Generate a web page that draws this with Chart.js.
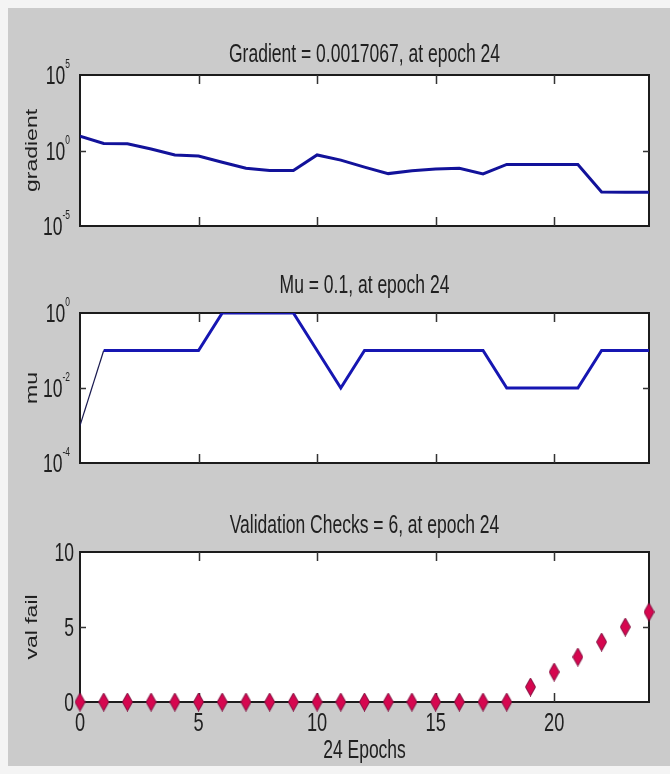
<!DOCTYPE html>
<html>
<head>
<meta charset="utf-8">
<script src="https://cdn.jsdelivr.net/npm/chart.js@4.4.1/dist/chart.umd.min.js"></script>
<style>
  html, body { margin: 0; padding: 0; background: #f4f4f4; }
  body { width: 670px; height: 774px; position: relative; overflow: hidden; }
  #fig { position: absolute; left: 8px; top: 8px; width: 662px; height: 758px; background: #cbcbcb; }
  canvas { position: absolute; left: 0; }
</style>
</head>
<body>
<div id="fig"></div>
<canvas id="gradChart" width="670" height="238" style="top:0px"></canvas>
<canvas id="muChart" width="670" height="238" style="top:238px"></canvas>
<canvas id="valChart" width="670" height="297" style="top:477px"></canvas>

<script>
// training record, one value per epoch
const epochs = [0, 1, 2, 3, 4, 5, 6, 7, 8, 9, 10, 11, 12, 13, 14, 15, 16, 17, 18, 19, 20, 21, 22, 23, 24];
const gradientValues = [8.9, 2.9, 2.75, 1.26, 0.5, 0.43, 0.166, 0.066, 0.048, 0.048, 0.51, 0.23,
                        0.079, 0.0295, 0.046, 0.059, 0.066, 0.028, 0.12, 0.12, 0.12, 0.12,
                        0.0018, 0.0017, 0.0017067];
const muValues = [0.001, 0.1, 0.1, 0.1, 0.1, 0.1, 1, 1, 1, 1, 0.1, 0.01, 0.1, 0.1, 0.1, 0.1,
                  0.1, 0.1, 0.01, 0.01, 0.01, 0.01, 0.1, 0.1, 0.1];
const valFailValues = [0, 0, 0, 0, 0, 0, 0, 0, 0, 0, 0, 0, 0, 0, 0, 0, 0, 0, 0, 1, 2, 3, 4, 5, 6];

const xTicks = [0, 5, 10, 15, 20];
const gradientExps = [-5, 0, 5];
const muExps = [-4, -2, 0];
const valFailTicks = [0, 5, 10];

const SX = 0.7;                       // narrow text, like the matlab figure
const FONT = '"Liberation Sans", Arial, sans-serif';
const INK = '#202020';

function txt(ctx, s, x, y, size, align) {
  ctx.save();
  ctx.translate(x, y);
  ctx.scale(SX, 1);
  ctx.font = size + 'px ' + FONT;
  ctx.fillStyle = INK;
  ctx.textAlign = align || 'center';
  ctx.textBaseline = 'alphabetic';
  ctx.fillText(s, 0, 0);
  ctx.restore();
}

function textWidth(ctx, s, size) {
  ctx.font = size + 'px ' + FONT;
  return ctx.measureText(s).width * SX;
}

// "10" with a raised exponent, right aligned at xr
function powLabel(ctx, exp, xr, py) {
  const e = String(exp).replace('-', '-');
  const wb = textWidth(ctx, '10', 25);
  const we = textWidth(ctx, e, 12);
  const x0 = xr - wb - we;
  txt(ctx, '10', x0, py + 9, 25, 'left');
  txt(ctx, e, x0 + wb, py - 7, 12, 'left');
}

function axesBox(o) {
  return {
    id: 'axesBox',
    beforeDraw(chart) {
      const { ctx, chartArea: a } = chart;
      ctx.save();
      ctx.fillStyle = '#ffffff';
      ctx.fillRect(a.left, a.top, a.right - a.left, a.bottom - a.top);
      ctx.restore();
    },
    beforeDatasetsDraw(chart) {
      const { ctx, chartArea: a, scales } = chart;
      const xs = scales.x, ys = scales.y;
      ctx.save();
      ctx.strokeStyle = '#1c1c1c';
      ctx.lineWidth = 2;
      ctx.strokeRect(a.left, a.top, a.right - a.left, a.bottom - a.top);

      // inward tick marks on all four sides
      ctx.lineWidth = 1.5;
      ctx.strokeStyle = '#333';
      ctx.beginPath();
      xTicks.forEach(v => {
        if (v <= xs.min || v >= xs.max) return;
        const px = Math.round(xs.getPixelForValue(v)) + 0.5;
        ctx.moveTo(px, a.bottom); ctx.lineTo(px, a.bottom - 9);
        ctx.moveTo(px, a.top); ctx.lineTo(px, a.top + 9);
      });
      o.yTicks.forEach(v => {
        const val = o.log ? Math.pow(10, v) : v;
        if (val <= ys.min || val >= ys.max) return;
        const py = Math.round(ys.getPixelForValue(val)) + 0.5;
        ctx.moveTo(a.left, py); ctx.lineTo(a.left + 6, py);
        ctx.moveTo(a.right, py); ctx.lineTo(a.right - 6, py);
      });
      ctx.stroke();
      ctx.restore();

      // y tick labels
      o.yTicks.forEach(v => {
        if (o.log) {
          powLabel(ctx, v, a.left - 10, ys.getPixelForValue(Math.pow(10, v)));
        } else {
          txt(ctx, String(v), a.left - 6, ys.getPixelForValue(v) + 9, 25, 'right');
        }
      });

      // x tick labels and x label only on the bottom panel
      if (o.xlabel) {
        xTicks.forEach(v => txt(ctx, String(v), xs.getPixelForValue(v), a.bottom + 29, 26, 'center'));
        txt(ctx, o.xlabel, (a.left + a.right) / 2, a.bottom + 56, 25, 'center');
      }

      // title
      txt(ctx, o.title, (a.left + a.right) / 2, o.titleY, 25, 'center');

      // rotated y label
      ctx.save();
      ctx.translate(37, (a.top + a.bottom) / 2);
      ctx.scale(SX, 1);
      ctx.rotate(-Math.PI / 2);
      ctx.font = '23px ' + FONT;
      ctx.fillStyle = INK;
      ctx.textAlign = 'center';
      ctx.textBaseline = 'alphabetic';
      ctx.fillText(o.ylabel, 0, 0);
      ctx.restore();
    }
  };
}

function pts(ys) {
  return epochs.map((e, i) => ({ x: e, y: ys[i] }));
}

function baseOptions(padBottom, yScale) {
  return {
    responsive: false,
    animation: false,
    events: [],
    layout: { padding: { left: 80, right: 21, top: 75, bottom: padBottom } },
    plugins: { legend: { display: false }, tooltip: { enabled: false }, title: { display: false } },
    scales: {
      x: { type: 'linear', min: 0, max: 24, display: false },
      y: Object.assign({ display: false }, yScale)
    }
  };
}

// gradient
new Chart(document.getElementById('gradChart'), {
  type: 'line',
  data: {
    datasets: [{
      data: pts(gradientValues),
      borderColor: '#12129a',
      borderWidth: 3,
      pointRadius: 0,
      tension: 0
    }]
  },
  options: baseOptions(12, { type: 'logarithmic', min: 1e-5, max: 1e5 }),
  plugins: [axesBox({ title: 'Gradient = 0.0017067, at epoch 24', titleY: 62, ylabel: 'gradient', yTicks: gradientExps, log: true })]
});

// mu
new Chart(document.getElementById('muChart'), {
  type: 'line',
  data: {
    datasets: [{
      data: pts(muValues),
      borderColor: '#1616b2',
      borderWidth: 3,
      pointRadius: 0,
      tension: 0,
      segment: {
        borderWidth: c => (c.p0DataIndex === 0 ? 1.2 : 3),
        borderColor: c => (c.p0DataIndex === 0 ? '#1a1a50' : '#1616b2')
      }
    }]
  },
  options: baseOptions(13, { type: 'logarithmic', min: 1e-4, max: 1 }),
  plugins: [axesBox({ title: 'Mu = 0.1, at epoch 24', titleY: 55, ylabel: 'mu', yTicks: muExps, log: true })]
});

// tall diamond marker
const diamond = document.createElement('canvas');
diamond.width = 11;
diamond.height = 19;
(function () {
  const c = diamond.getContext('2d');
  c.beginPath();
  c.moveTo(5.5, 0.5);
  c.lineTo(10.5, 9.5);
  c.lineTo(5.5, 18.5);
  c.lineTo(0.5, 9.5);
  c.closePath();
  c.fillStyle = '#d6064f';
  c.fill();
  c.strokeStyle = '#7c0d3c';
  c.lineWidth = 1;
  c.stroke();
})();

// validation checks
new Chart(document.getElementById('valChart'), {
  type: 'line',
  data: {
    datasets: [{
      data: pts(valFailValues),
      showLine: false,
      pointStyle: diamond,
      pointRadius: 6,
      clip: false
    }]
  },
  options: baseOptions(72, { type: 'linear', min: 0, max: 10 }),
  plugins: [axesBox({ title: 'Validation Checks = 6, at epoch 24', titleY: 56, ylabel: 'val fail', yTicks: valFailTicks, log: false, xlabel: '24 Epochs' })]
});
</script>
</body>
</html>
